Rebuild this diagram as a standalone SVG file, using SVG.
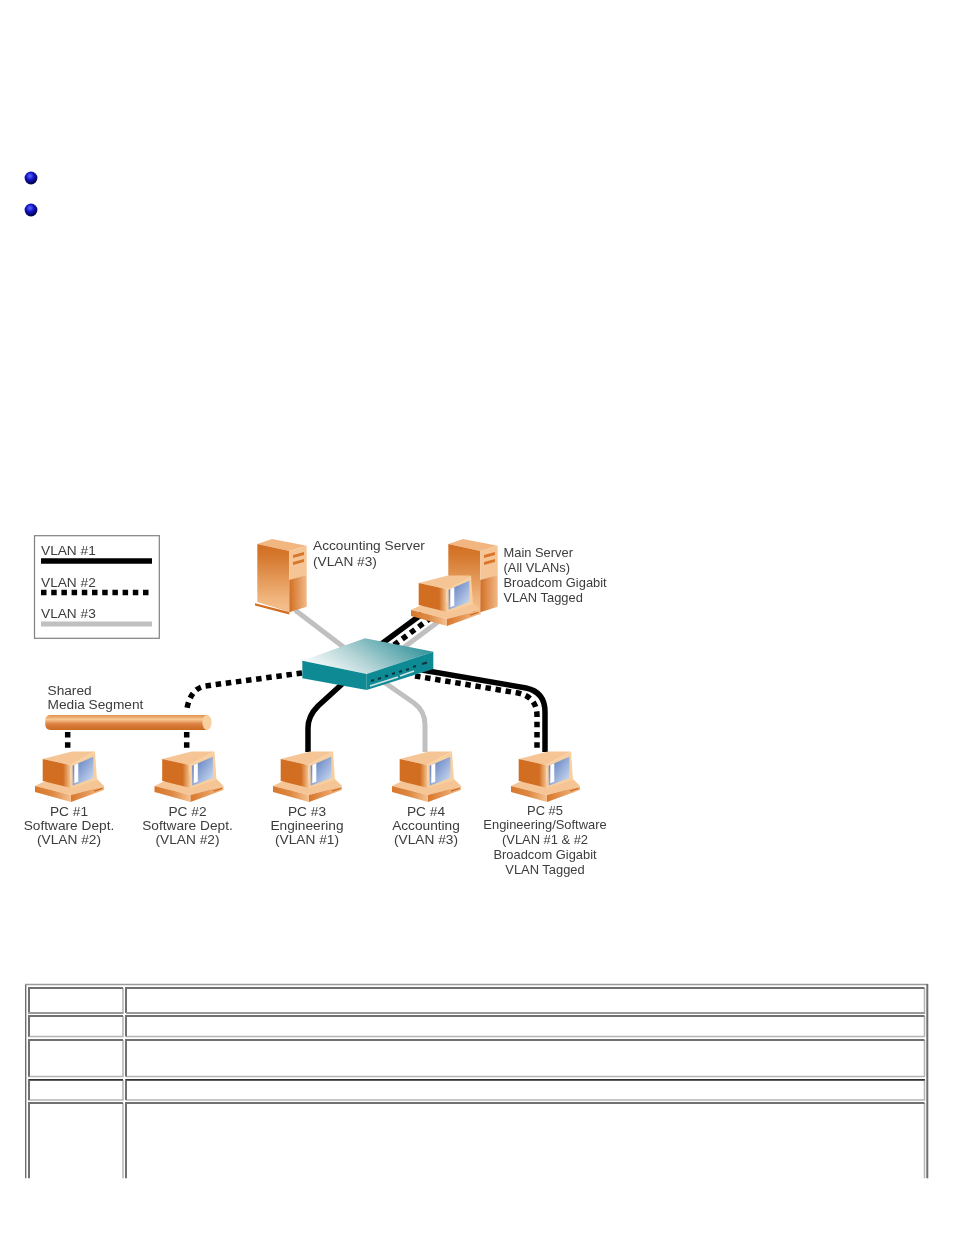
<svg xmlns="http://www.w3.org/2000/svg" width="954" height="1235" viewBox="0 0 954 1235">
<style>
text{font-family:"Liberation Sans",Arial,sans-serif;font-size:13.7px;fill:#3c3c3c;filter:url(#softT);transform:translateY(-0.7px)}
.s{font-size:12.9px}
.c{text-anchor:middle}
.wire{fill:none;stroke-linejoin:round}
.v1{stroke:#000;stroke-width:5.5}
.v2{stroke:#000;stroke-width:5.5;stroke-dasharray:5.5 4.7}
.v3{stroke:#c0c0c0;stroke-width:5}
.cd{fill:none;stroke:#707070;stroke-width:2}
.cl{fill:none;stroke:#b4b4b4;stroke-width:1.5}
</style>
<defs>
<radialGradient id="ball" cx="0.42" cy="0.35" r="0.65"><stop offset="0" stop-color="#5a6cff"/><stop offset="0.45" stop-color="#1414c8"/><stop offset="1" stop-color="#000040"/></radialGradient>
<linearGradient id="sw" x1="0" y1="0.7" x2="1" y2="0.3"><stop offset="0" stop-color="#ffffff"/><stop offset="0.4" stop-color="#b8d6d8"/><stop offset="1" stop-color="#2a8f98"/></linearGradient>
<linearGradient id="rod" x1="0" y1="0" x2="0" y2="1"><stop offset="0" stop-color="#e0904e"/><stop offset="0.3" stop-color="#f8c894"/><stop offset="0.6" stop-color="#dc8040"/><stop offset="1" stop-color="#c96a20"/></linearGradient>
<linearGradient id="srvL" x1="0" y1="0" x2="0" y2="1"><stop offset="0" stop-color="#d16e22"/><stop offset="0.2" stop-color="#d67a30"/><stop offset="0.8" stop-color="#f0b47c"/><stop offset="1" stop-color="#f4c090"/></linearGradient>
<linearGradient id="srvR" x1="0" y1="0" x2="1" y2="0"><stop offset="0" stop-color="#d16e22"/><stop offset="1" stop-color="#f2b988"/></linearGradient>
<linearGradient id="scr" x1="0" y1="0" x2="1" y2="1"><stop offset="0" stop-color="#4d70b8"/><stop offset="1" stop-color="#d8e4f6"/></linearGradient>
<linearGradient id="side" x1="0" y1="0" x2="1" y2="0"><stop offset="0" stop-color="#d16e22"/><stop offset="0.72" stop-color="#d16e22"/><stop offset="1" stop-color="#f7cb9c"/></linearGradient>
<linearGradient id="bs" x1="0" y1="0" x2="1" y2="0"><stop offset="0" stop-color="#d8772c"/><stop offset="0.5" stop-color="#dd8a44"/><stop offset="1" stop-color="#f6c292"/></linearGradient>
<linearGradient id="bs2" x1="0" y1="0" x2="1" y2="0"><stop offset="0" stop-color="#d8772c"/><stop offset="1" stop-color="#f4bd8a"/></linearGradient>
<filter id="soft" x="-5%" y="-5%" width="110%" height="110%"><feGaussianBlur stdDeviation="0.45"/></filter>
<filter id="softT" x="-5%" y="-20%" width="110%" height="140%"><feGaussianBlur stdDeviation="0.3"/></filter>
<g id="pc">
<polygon points="35,786 43,782 97,779 104,786 71,795" fill="#f6c596"/>
<polygon points="35,786 71,795 71,802 35,792" fill="url(#bs)"/>
<polygon points="71,795 104,786 104,790 71,802" fill="url(#bs2)"/>
<polygon points="42.7,759 72,751.5 95,751.5 70,765" fill="#f6c596"/>
<polygon points="42.7,759 70,765 71,788 42.7,781" fill="url(#side)"/>
<polygon points="70,765 95,751.5 97,780 71,788" fill="#f8cf9f"/>
<polygon points="72.7,765.7 93.3,756.7 93.5,778 72.7,785.7" fill="url(#scr)"/>
<polygon points="74.3,765 78.3,763.3 78.3,781.7 74.3,783.3" fill="#fff"/>
<polygon points="94,790.5 102.7,787.7 102.7,789 94,791.8" fill="#c8681e"/>
</g>
<g id="srv">
<polygon points="257.3,544 272,539 306.7,545.7 289.3,551" fill="#f2b680"/>
<polygon points="257.3,544 289.3,551 289.3,612 257.3,602" fill="url(#srvL)"/>
<polygon points="289.3,551 306.7,545.7 306.7,575 290.7,580 289.3,580" fill="#f6c596"/>
<polygon points="289.3,580 306.7,575 306.7,606.7 289.3,612.3" fill="url(#srvR)"/>
<polygon points="255,603.3 289.3,612 289.3,614.5 255,605.5" fill="#d16e22"/>
<polygon points="293,555 304,552 304,555 293,558" fill="#d8772c"/>
<polygon points="293,562 304,559 304,562 293,565" fill="#d8772c"/>
</g>
</defs>
<rect width="954" height="1235" fill="#fff"/>
<g id="bullets">
<circle cx="31" cy="178" r="6.4" fill="url(#ball)"/>
<circle cx="31" cy="210" r="6.4" fill="url(#ball)"/>
</g>
<g id="legend">
<rect x="34.5" y="535.7" width="124.8" height="102.6" fill="#fff" stroke="#808080" stroke-width="1.2"/>
<text x="41" y="556">VLAN #1</text>
<text x="41" y="588">VLAN #2</text>
<text x="41" y="619">VLAN #3</text>
<line class="wire v1" x1="41" y1="561" x2="152" y2="561"/>
<line class="wire v2" x1="41" y1="592.5" x2="149" y2="592.5"/>
<line class="wire v3" x1="41" y1="624" x2="152" y2="624"/>
</g>
<g id="connectors" filter="url(#soft)">
<path class="wire v3" d="M295,610L350,652"/>
<path class="wire v1" d="M380,645L422,614"/>
<path class="wire v2" d="M394,645L432,617"/>
<path class="wire v3" d="M403,648L442,619"/>
<path class="wire v2" d="M302,673L205,686Q190,689 186.7,710"/>
<path class="wire v2" d="M67.7,732V750"/>
<path class="wire v2" d="M186.7,732V750"/>
<path class="wire v1" d="M352,675L318,706Q308,716 308,728V752"/>
<path class="wire v3" d="M378,678L414,703Q425,711 425,725V752"/>
<path class="wire v1" d="M422,670L526,688Q545,692 545,712V752"/>
<path class="wire v2" d="M415,676L518,693Q537,697 537,716V752"/>
</g>
<g id="accounting-server"><g filter="url(#soft)"><use href="#srv"/></g>
<text x="313" y="550.5">Accounting Server</text>
<text x="313" y="567">(VLAN #3)</text></g>
<g id="main-server"><g filter="url(#soft)"><use href="#srv" x="191"/><use href="#pc" x="376" y="-176"/></g>
<text class="s" x="503.5" y="558">Main Server</text>
<text class="s" x="503.5" y="573">(All VLANs)</text>
<text class="s" x="503.5" y="588">Broadcom Gigabit</text>
<text class="s" x="503.5" y="603">VLAN Tagged</text>
</g>
<g id="switch"><g filter="url(#soft)">
<polygon points="302.3,660.7 365,638.3 433.3,651.7 366.7,674" fill="url(#sw)"/>
<polygon points="302.3,660.7 366.7,674 366.7,690 302.3,678.3" fill="#0f8a94"/>
<polygon points="366.7,674 433.3,651.7 433.3,669 366.7,690" fill="#0f8a94"/>
<path d="M371,681l3,-1M378,679l3,-1M385,676.5l3,-1M392,674l3,-1M399,672l3,-1M406,670l3,-1M413,667l3,-1M422,664l5,-1.5" stroke="#08343a" stroke-width="2" fill="none"/>
<path d="M370,686l28,-9M400,676l14,-5" stroke="#cfe3e4" stroke-width="1.5" fill="none"/>
</g></g>
<g id="shared-media-segment">
<g filter="url(#soft)"><rect x="45.3" y="715" width="165" height="15" rx="5" fill="url(#rod)"/>
<ellipse cx="207" cy="722.5" rx="4.6" ry="7.5" fill="#f8cf9f"/></g>
<text x="47.5" y="695.5">Shared</text>
<text x="47.5" y="709.5">Media Segment</text>
</g>
<g id="pc1"><g filter="url(#soft)"><use href="#pc"/></g>
<text class="c" x="69" y="816.5">PC #1</text><text class="c" x="69" y="830.5">Software Dept.</text><text class="c" x="69" y="845">(VLAN #2)</text></g>
<g id="pc2"><g filter="url(#soft)"><use href="#pc" x="119.5"/></g>
<text class="c" x="187.5" y="816.5">PC #2</text><text class="c" x="187.5" y="830.5">Software Dept.</text><text class="c" x="187.5" y="845">(VLAN #2)</text></g>
<g id="pc3"><g filter="url(#soft)"><use href="#pc" x="238"/></g>
<text class="c" x="307" y="816.5">PC #3</text><text class="c" x="307" y="830.5">Engineering</text><text class="c" x="307" y="845">(VLAN #1)</text></g>
<g id="pc4"><g filter="url(#soft)"><use href="#pc" x="357"/></g>
<text class="c" x="426" y="816.5">PC #4</text><text class="c" x="426" y="830.5">Accounting</text><text class="c" x="426" y="845">(VLAN #3)</text></g>
<g id="pc5"><g filter="url(#soft)"><use href="#pc" x="476"/></g>
<text class="c s" x="545" y="815.5">PC #5</text><text class="c s" x="545" y="830">Engineering/Software</text><text class="c s" x="545" y="845">(VLAN #1 &amp; #2</text><text class="c s" x="545" y="860">Broadcom Gigabit</text><text class="c s" x="545" y="874.5">VLAN Tagged</text></g>
<g id="table">
<path d="M25,984.5H928" fill="none" stroke="#9a9a9a" stroke-width="1.4"/>
<path d="M25.7,1178.3V985" fill="none" stroke="#6e6e6e" stroke-width="1.4"/>
<path d="M927.3,984V1178.3" fill="none" stroke="#6e6e6e" stroke-width="2"/>
<path class="cl" d="M28,1013H123V988"/><path class="cd" d="M29,1013V988H123"/>
<path class="cl" d="M126,1013H924.5V988"/><path class="cd" d="M126,1013V988H924.5"/>
<path d="M28,1013H123M126,1013H925" stroke="#999" stroke-width="2" fill="none"/>
<path class="cl" d="M28,1036.5H123V1016"/><path class="cd" d="M29,1036.5V1016H123"/>
<path class="cl" d="M126,1036.5H924.5V1016"/><path class="cd" d="M126,1036.5V1016H924.5"/>
<path class="cl" d="M28,1076.5H123V1040"/><path class="cd" d="M29,1076.5V1040H123"/>
<path class="cl" d="M126,1076.5H924.5V1040"/><path class="cd" d="M126,1076.5V1040H924.5"/>
<path class="cl" d="M28,1100H123V1080"/><path class="cd" d="M29,1100V1080H123"/>
<path class="cl" d="M126,1100H924.5V1080"/><path class="cd" d="M126,1100V1080H924.5"/>
<path d="M29,1079.7H123M126,1079.7H925" stroke="#333" stroke-width="1.2" fill="none"/>
<path class="cl" d="M123,1178.3V1103"/><path class="cd" d="M29,1178.3V1103H123"/>
<path class="cl" d="M924.5,1178.3V1103"/><path class="cd" d="M126,1178.3V1103H924.5"/>
</g>
</svg>
